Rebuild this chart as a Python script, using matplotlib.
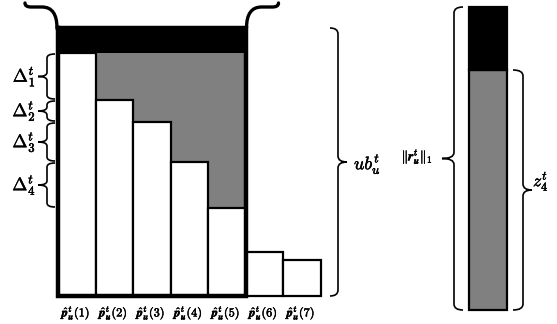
import matplotlib
matplotlib.use("Agg")
import matplotlib.pyplot as plt
from matplotlib.path import Path
from matplotlib.patches import PathPatch
import matplotlib.patheffects as pe
import numpy as np

plt.rcParams['mathtext.fontset'] = 'cm'
plt.rcParams['font.family'] = ['DejaVu Serif']

# ---- data (heights, in pixel units) ----
labels = [r'$\hat{\mathbfit{p}}_{\mathbfit{u}}^{t}(%d)$' % i for i in range(1, 8)]
heights = [243, 196, 174, 134, 88, 44, 36]   # p-hat bars
ub = 268                                     # upper bound ub_u^t
r_total = 303                                # ||r_u^t||_1
z4 = 240                                     # z_4^t
delta_labels = [r'$\Delta_{%d}^{t}$' % k for k in range(1, 5)]
n_top = 5                                    # bars included in the bound

W, H = 557, 324
fig = plt.figure(figsize=(W / 100, H / 100), dpi=100)
ax = fig.add_axes([0, 0, 1, 1])
ax.set_xlim(0, W)
ax.set_ylim(0, H)
ax.axis('off')

bold = [pe.withStroke(linewidth=0.35, foreground='black')]

base = 28          # baseline of left chart
x0 = 58            # left edge of first bar
bw = 37.5          # bar width
xc = x0 + bw / 2 + bw * np.arange(len(heights))
h = np.array(heights, dtype=float)

# gray area above bars 2..5 up to top of bar 1
ax.bar(xc[1:n_top], h[0] - h[1:n_top], bottom=base + h[1:n_top], width=bw,
       color='#808080', edgecolor='none', zorder=1)
# black band between top of bar 1 and ub
ax.bar((x0 + x0 + n_top * bw) / 2, ub - h[0], bottom=base + h[0], width=n_top * bw,
       color='black', edgecolor='none', zorder=1)
# white bars
ax.bar(xc, h, bottom=base, width=bw, color='white', edgecolor='black',
       linewidth=1.6, zorder=2)
# thick outline around first n_top bars
xr = x0 + n_top * bw
ax.plot([x0, x0, xr, xr, x0], [base + ub, base, base, base + ub, base + ub],
        color='black', linewidth=3.2, zorder=3, solid_joinstyle='miter')

for x, lab in zip(xc, labels):
    ax.text(x, H - 313, lab, ha='center', va='center', fontsize=8.8,
            path_effects=bold)


def brace(ax, x_line, x_end, x_tip, y_top, y_bot, r=5, lw=1.2):
    ym = (y_top + y_bot) / 2
    verts = [(x_end, y_top), (x_line, y_top), (x_line, y_top - r),
             (x_line, ym + r), (x_line, ym), (x_tip, ym),
             (x_line, ym), (x_line, ym - r),
             (x_line, y_bot + r), (x_line, y_bot), (x_end, y_bot)]
    codes = [Path.MOVETO, Path.CURVE3, Path.CURVE3,
             Path.LINETO, Path.CURVE3, Path.CURVE3,
             Path.CURVE3, Path.CURVE3,
             Path.LINETO, Path.CURVE3, Path.CURVE3]
    ax.add_patch(PathPatch(Path(verts, codes), facecolor='none',
                           edgecolor='black', linewidth=lw, zorder=4))
    return ym


# delta braces on the left
tops = base + h
for k in range(4):
    ym = brace(ax, 47, 55, 38, tops[k] - 1, tops[k + 1] + 1, r=4)
    ax.text(36, ym, delta_labels[k], ha='right', va='center', fontsize=13,
            path_effects=bold)

# top curly ends
def top_curl(ax, sgn):
    cx = (x0 + xr) / 2
    pts = [(25, 3), (25, 7), (31, 7), (42, 7), (57, 7), (57, 28)]
    pts = [(cx + sgn * (px - cx), H - py) for px, py in pts]
    codes = [Path.MOVETO, Path.CURVE3, Path.CURVE3, Path.LINETO, Path.CURVE3, Path.CURVE3]
    ax.add_patch(PathPatch(Path(pts, codes), facecolor='none', edgecolor='black',
                           linewidth=2.4, zorder=4, capstyle='round'))

top_curl(ax, 1)
top_curl(ax, -1)

# ub brace
ym = brace(ax, 338, 330, 347, base + ub, base, r=6)
ax.text(354, ym - 2, r'$ub_{u}^{t}$', ha='left', va='center', fontsize=13,
        path_effects=bold)

# right stacked bar
rb = 14
rx = 488
ax.bar(rx, z4, bottom=rb, width=38, color='#808080', edgecolor='black',
       linewidth=1.6, zorder=2)
ax.bar(rx, r_total - z4, bottom=rb + z4, width=38, color='black',
       edgecolor='black', linewidth=1.6, zorder=2)

ym = brace(ax, 454, 463, 442, rb + r_total, rb, r=6)
ax.text(433, ym + 2, r'$\|\mathbfit{r}_{\mathbfit{u}}^{t}\|_1$', ha='right', va='center',
        fontsize=9.5, path_effects=bold)
ym = brace(ax, 523, 513, 532, rb + z4, rb, r=6)
ax.text(533, ym + 9, r'$z_{4}^{t}$', ha='left', va='center', fontsize=12.5,
        path_effects=bold)

fig.savefig('out.png', dpi=100)
